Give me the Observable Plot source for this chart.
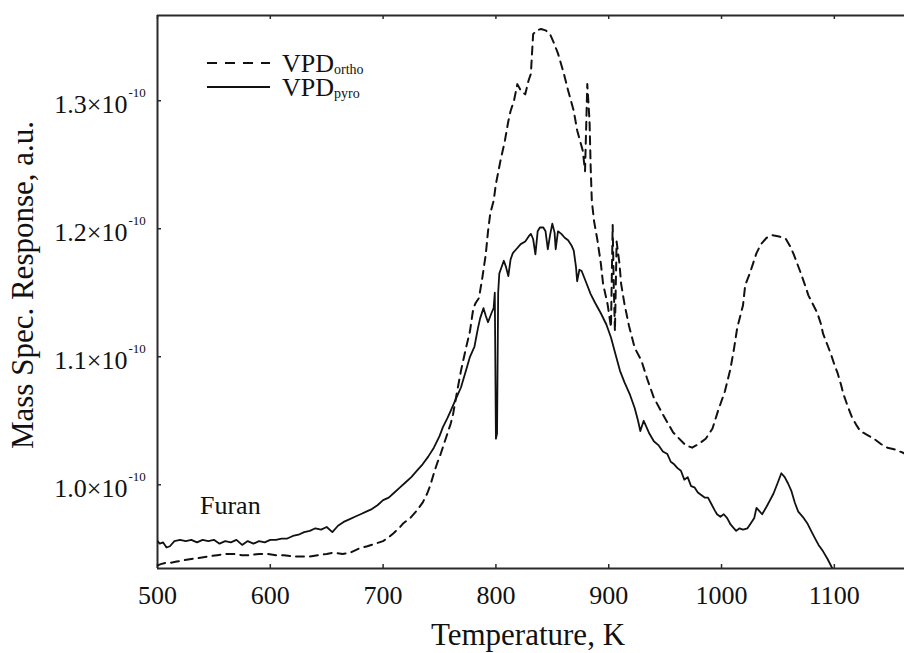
<!DOCTYPE html>
<html>
<head>
<meta charset="utf-8">
<script src="https://cdn.jsdelivr.net/npm/d3@7"></script>
<script src="https://cdn.jsdelivr.net/npm/@observablehq/plot@0.6"></script>
<style>
  html, body { margin: 0; padding: 0; background: #fff; }
  svg { font-family: "Liberation Serif", "Times New Roman", serif; }
</style>
</head>
<body>
<div id="chart"></div>
<script>
// ---- data (response in units of 1e-10) ----
const temperatureTicks = [500, 600, 700, 800, 900, 1000, 1100];
const responseTicks = [1.0, 1.1, 1.2, 1.3];
const seriesNames = ["ortho", "pyro"];

const pyroT = [500,502,505,508,511,515,520,525,530,535,540,545,550,555,560,565,570,575,580,585,590,595,600,605,610,615,620,625,630,635,640,645,650,655,660,665,670,675,680,685,690,695,700,705,710,715,720,725,730,735,740,745,750,753,757,760,765,769,773,777,781,784,786,789,791,793,796,798,799,800,801,802,803,807,809,811,813,815,818,822,826,829,831,833,835,837,839,842,844,846,848,850,852,853,855,858,861,864,867,869,871,872,874,876,880,884,888,893,898,902,906,910,914,919,923,926,928,931,933,936,940,944,948,952,955,958,961,964,967,970,973,976,979,982,985,988,991,994,996,999,1002,1005,1008,1011,1013,1016,1019,1023,1026,1029,1031,1033,1036,1040,1043,1046,1050,1053,1056,1059,1062,1065,1068,1072,1076,1080,1083,1086,1090,1094,1098];
const pyroY = [0.956,0.954,0.955,0.951,0.952,0.956,0.957,0.956,0.957,0.955,0.957,0.956,0.957,0.954,0.956,0.955,0.957,0.953,0.956,0.954,0.956,0.955,0.957,0.957,0.958,0.958,0.960,0.961,0.963,0.964,0.966,0.965,0.967,0.963,0.968,0.971,0.973,0.975,0.977,0.979,0.981,0.984,0.988,0.990,0.994,0.998,1.002,1.006,1.011,1.016,1.022,1.029,1.038,1.045,1.052,1.058,1.068,1.076,1.088,1.100,1.108,1.122,1.130,1.138,1.132,1.127,1.134,1.138,1.150,1.036,1.040,1.150,1.165,1.175,1.170,1.163,1.176,1.181,1.184,1.188,1.190,1.194,1.196,1.192,1.180,1.198,1.201,1.201,1.198,1.184,1.195,1.204,1.197,1.184,1.198,1.196,1.193,1.191,1.187,1.183,1.170,1.159,1.168,1.167,1.158,1.149,1.142,1.134,1.125,1.115,1.102,1.089,1.080,1.070,1.060,1.050,1.042,1.050,1.046,1.040,1.034,1.031,1.026,1.024,1.018,1.016,1.013,1.011,1.004,1.006,0.999,0.998,0.994,0.992,0.990,0.990,0.985,0.980,0.977,0.975,0.977,0.974,0.969,0.966,0.964,0.966,0.965,0.966,0.970,0.974,0.982,0.980,0.977,0.983,0.988,0.993,1.002,1.009,1.006,1.001,0.995,0.986,0.979,0.975,0.970,0.963,0.958,0.953,0.948,0.942,0.935];

const orthoT = [500,503,507,511,517,523,530,538,545,553,560,567,575,582,590,597,605,612,620,627,635,642,650,656,664,671,678,686,693,700,705,709,714,718,724,730,735,739,742,745,748,751,754,757,760,762,765,769,773,777,780,782,785,788,791,793,795,798,800,804,808,811,813,816,819,822,826,829,831,832,833,836,840,844,848,851,855,858,860,864,869,872,877,879,881,883,884,885,887,890,893,895,899,902,903.5,904.5,905.5,907,909.5,911,914,918,923,929,934,940,948,957,968,974,980,986,992,997,1003,1008,1011,1014,1019,1021,1025,1028,1031,1035,1040,1045,1051,1057,1061,1064,1067,1070,1074,1077,1081,1085,1088,1090,1094,1097,1100,1103,1106,1108,1112,1116,1120,1123,1129,1135,1141,1147,1152,1156,1158,1161,1163];
const orthoY = [0.937,0.938,0.939,0.939,0.940,0.941,0.942,0.943,0.944,0.945,0.946,0.946,0.945,0.945,0.946,0.946,0.945,0.945,0.944,0.944,0.944,0.945,0.946,0.947,0.946,0.947,0.950,0.952,0.954,0.956,0.959,0.962,0.966,0.970,0.974,0.980,0.986,0.993,1.000,1.009,1.017,1.024,1.032,1.040,1.048,1.055,1.070,1.089,1.105,1.120,1.138,1.142,1.146,1.162,1.180,1.198,1.212,1.222,1.235,1.253,1.269,1.284,1.292,1.300,1.313,1.308,1.305,1.316,1.321,1.337,1.352,1.355,1.356,1.355,1.352,1.346,1.337,1.328,1.322,1.308,1.292,1.277,1.261,1.245,1.313,1.284,1.248,1.222,1.206,1.191,1.173,1.157,1.141,1.123,1.203,1.154,1.120,1.190,1.173,1.157,1.141,1.124,1.107,1.097,1.083,1.068,1.055,1.041,1.031,1.029,1.032,1.036,1.044,1.058,1.073,1.091,1.106,1.123,1.140,1.156,1.165,1.173,1.181,1.188,1.193,1.195,1.194,1.192,1.186,1.180,1.173,1.166,1.156,1.148,1.141,1.134,1.126,1.118,1.109,1.102,1.094,1.087,1.078,1.071,1.061,1.052,1.046,1.042,1.039,1.036,1.032,1.029,1.028,1.027,1.026,1.025,1.024];

const pyro = pyroT.map((t, i) => ({T: t, R: pyroY[i], s: "pyro"}));
const ortho = orthoT.map((t, i) => ({T: t, R: orthoY[i], s: "ortho"}));

const xDomain = [500, 1162.2];
const yDomain = [0.9346, 1.3666];

const W = 904, H = 653;
const mL = 157, mR = 0, mT = 15, mB = 85;
const innerW = W - mL - mR, innerH = H - mT - mB;
const frameColor = "#2a2a2a";
const font = "'Liberation Serif', 'Times New Roman', serif";

const plot = Plot.plot({
  width: W, height: H,
  marginLeft: mL, marginRight: mR, marginTop: mT, marginBottom: mB,
  style: {fontFamily: font, background: "#fff", color: "#111"},
  x: {domain: xDomain, axis: null},
  y: {domain: yDomain, axis: null},
  marks: [
    // frame (left, top, bottom)
    Plot.ruleX([xDomain[0]], {stroke: frameColor, strokeWidth: 2}),
    Plot.ruleY([yDomain[0], yDomain[1]], {stroke: frameColor, strokeWidth: 2}),
    // inward ticks
    Plot.tickX(temperatureTicks, {x: d => d, insetTop: innerH - 4, stroke: frameColor, strokeWidth: 1.5}),
    Plot.tickX(temperatureTicks, {x: d => d, insetBottom: innerH - 4, stroke: frameColor, strokeWidth: 1.5}),
    Plot.tickY(responseTicks, {y: d => d, insetRight: innerW - 4, stroke: frameColor, strokeWidth: 1.5}),
    // x tick labels
    Plot.axisX(temperatureTicks, {tickSize: 0, tickPadding: 17, fontSize: 26, label: null, tickFormat: d => String(d), fill: "#111"}),
    // y tick labels (mantissa and superscript)
    Plot.text(responseTicks, {y: d => d, frameAnchor: "left", text: d => d.toFixed(1) + "×10", textAnchor: "end", dx: -30, dy: 4, lineAnchor: "middle", fontSize: 26, fill: "#111"}),
    Plot.text(responseTicks, {y: d => d, frameAnchor: "left", text: () => "-10", textAnchor: "start", dx: -29, dy: -8, lineAnchor: "middle", fontSize: 13, fill: "#111"}),
    // data
    Plot.line(pyro, {x: "T", y: "R", stroke: "#111", strokeWidth: 1.8, clip: true}),
    Plot.line(ortho, {x: "T", y: "R", stroke: "#111", strokeWidth: 2, strokeDasharray: "8,6", clip: true})
  ]
});

document.getElementById("chart").appendChild(plot);

// ---- annotations: legend, axis titles, label ----
const svg = d3.select(plot);
const g = svg.append("g").attr("font-family", font).attr("fill", "#111").attr("text-anchor", "start");

const legendRows = [
  {name: seriesNames[0], dash: "10,8", y: 63, base: 72},
  {name: seriesNames[1], dash: null, y: 87, base: 96}
];
legendRows.forEach(r => {
  g.append("line").attr("x1", 207).attr("x2", 270).attr("y1", r.y).attr("y2", r.y)
    .attr("stroke", "#111").attr("stroke-width", 2).attr("stroke-dasharray", r.dash);
  const t = g.append("text").attr("x", 282).attr("y", r.base).attr("font-size", 26).attr("text-anchor", "start");
  t.append("tspan").text("VPD");
  t.append("tspan").attr("font-size", 14).attr("dy", 2).text(r.name);
});

g.append("text").attr("x", 200).attr("y", 514).attr("font-size", 26).attr("text-anchor", "start").text("Furan");

g.append("text").attr("x", 528).attr("y", 645).attr("font-size", 31)
  .attr("text-anchor", "middle").text("Temperature, K");

g.append("text").attr("transform", "translate(33,285) rotate(-90)").attr("font-size", 31)
  .attr("text-anchor", "middle").text("Mass Spec. Response, a.u.");
</script>
</body>
</html>
